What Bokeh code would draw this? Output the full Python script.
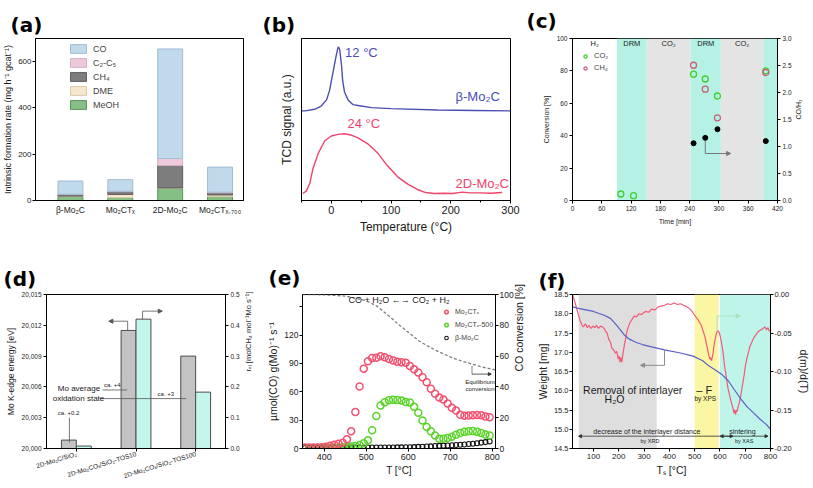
from bokeh.plotting import figure
from bokeh.models import (Range1d, LinearAxis, FixedTicker, NumeralTickFormatter, Label,
                          Legend, LegendItem, BoxAnnotation, Arrow, NormalHead, ColumnDataSource)
from bokeh.layouts import column, row
from bokeh.embed import file_html
from bokeh.resources import INLINE

FONT = "Liberation Sans"
TXT = "#1a1a1a"

# ---------------- data ----------------
# (a) intrinsic formation rates
a_catalysts = ["β-Mo₂C", "Mo₂CTₓ", "2D-Mo₂C", "Mo₂CTₓ₋₇₀₀"]
a_pos = [1, 2, 3, 4]
a_meoh = [17, 12, 53, 16]
a_dme = [2, 14, 1, 8]
a_ch4 = [7, 12, 97, 9]
a_c2c5 = [1, 2, 30, 3]
a_co = [57, 50, 472, 108]
a_yticks = [0, 200, 400, 600]

# (b) TCD signals
b_temp_beta = [-50, -44, -28, -17, -8, -3, 3, 8, 11, 12, 14, 17, 19, 22, 28, 36, 50, 67, 100, 178, 240, 300]
b_sig_beta = [0.553, 0.553, 0.563, 0.583, 0.621, 0.68, 0.796, 0.893, 0.942, 0.948, 0.932, 0.835,
              0.738, 0.67, 0.621, 0.592, 0.583, 0.573, 0.567, 0.559, 0.556, 0.553]
b_temp_2d = [-48, -42, -36, -31, -22, -11, 0, 11, 22, 33, 44, 61, 78, 94, 111, 128, 144, 158, 172,
             189, 203, 219, 233, 250, 267, 286]
b_sig_2d = [0.043, 0.058, 0.107, 0.194, 0.291, 0.369, 0.398, 0.408, 0.412, 0.404, 0.388, 0.35, 0.291,
            0.214, 0.146, 0.101, 0.068, 0.049, 0.043, 0.045, 0.043, 0.052, 0.047, 0.047, 0.045, 0.049]
b_xticks = [0, 100, 200, 300]

# (c) DRM cycling
c_phase_edges = [0, 91, 152, 242, 304, 391, 420]
c_phase_names = ["H₂", "DRM", "CO₂", "DRM", "CO₂", "DRM"]
c_t_co2 = [99, 125, 248, 272, 297, 396]
c_co2_conv = [4, 3, 78, 75, 64.5, 80]
c_t_ch4 = [248, 272, 297, 396]
c_ch4_conv = [83.5, 68.7, 51, 79]
c_t_ratio = [248, 272, 297, 396]
c_co_h2 = [1.06, 1.16, 1.32, 1.10]
c_xticks = [0, 60, 120, 180, 240, 300, 360, 420]

# (d) XANES edge energy and rate
d_catalysts = ["2D-Mo₂C/SiO₂", "2D-Mo₂COₓ/SiO₂-TOS10", "2D-Mo₂COₓ/SiO₂-TOS100"]
d_pos = [1, 2, 3]
d_edge = [20000.82, 20011.5, 20009.0]
d_rate = [0.008, 0.42, 0.183]
d_yticks = [20000, 20003, 20006, 20009, 20012, 20015]

# (e) WGS activity
e_temp = [354, 364, 374, 384, 394, 404, 414, 424, 434, 444, 454, 464, 474, 484, 494, 504, 514, 524,
          534, 544, 554, 564, 574, 584, 594, 604, 614, 624, 634, 644, 654, 664, 674, 684, 694, 704,
          714, 724, 734, 744, 754, 764, 774, 784, 794]
e_mo2ctx = [1, 1, 1, 1, 1.2, 1.8, 3, 4, 5, 6, 9.7, 18.3, 38.6, 65.5, 84.5, 92.4, 95.9, 96, 97.6, 96.5,
            94.8, 93.1, 91.7, 91.4, 90.7, 87.3, 83.8, 80.4, 75.3, 70.1, 63.2, 58, 53.9, 51.8, 47.7,
            43.2, 40.1, 35.6, 34.6, 34.9, 35.2, 35.5, 35.2, 33.9, 33.1]
e_mo2ctx500 = [0.5, 0.5, 0.5, 0.5, 0.5, 0.6, 0.7, 0.8, 1, 1.2, 1.5, 2, 2.7, 3.7, 5.5, 8.6, 19.3, 34.5,
               45.5, 48.9, 51, 51.7, 51.4, 50.7, 49.3, 48.6, 44.1, 37.9, 29.6, 22.7, 18.3, 13.8, 10.3,
               10.3, 11, 12.4, 14.5, 16.5, 17.6, 18.3, 18.5, 17.6, 16.5, 14.9, 13.8]
e_beta = [0.5, 0.5, 0.6, 0.6, 0.6, 0.7, 0.7, 0.7, 0.8, 0.8, 0.8, 0.9, 0.9, 0.9, 1, 1, 1, 1, 1, 1.1,
          1.1, 1.1, 1.2, 1.2, 1.3, 1.4, 1.5, 1.7, 1.9, 2.1, 2.3, 2.6, 2.8, 3.0, 3.2, 3.4, 3.7, 4.0,
          4.3, 4.7, 5.1, 5.6, 6.2, 6.8, 7.5]
e_eq_temp = [348, 400, 450, 500, 525, 550, 575, 600, 625, 650, 675, 700, 725, 750, 775, 800, 808]
e_eq_conv = [100, 99.8, 99, 96, 92.5, 87, 81, 75.5, 70, 66, 62.5, 59.5, 57, 55, 53, 51.5, 51]
e_xticks = [400, 500, 600, 700, 800]
e_yticks = [0, 30, 60, 90, 120, 150]
e_conv_ticks = [0, 20, 40, 60, 80, 100]

# (f) TGA / DTG
f_temp_w = [17, 41, 100, 142, 167, 192, 211, 223, 242, 267, 293, 330, 381, 444, 494, 532, 557, 582,
            608, 633, 658, 683, 708, 734, 759, 784, 800]
f_weight = [18.18, 18.14, 18.06, 17.96, 17.88, 17.7, 17.54, 17.44, 17.34, 17.26, 17.2, 17.14, 17.06,
            16.98, 16.9, 16.78, 16.64, 16.54, 16.42, 16.26, 16.02, 15.78, 15.58, 15.42, 15.26, 15.12, 15.0]
f_temp_dtg = [17, 25, 35, 47, 55, 60, 68, 75, 82, 90, 98, 105, 112, 120, 128, 135, 142, 148, 154, 160,
              167, 173, 180, 186, 192, 198, 202, 205, 208, 212, 215, 219, 223, 228, 232, 238, 245, 253,
              261, 270, 280, 290, 305, 318, 330, 343, 356, 368, 381, 393, 406, 419, 432, 444, 456, 469,
              482, 494, 507, 516, 526, 532, 538, 543, 548, 553, 557, 560, 563, 567, 572, 576, 580, 585,
              589, 592, 595, 598, 601, 606, 610, 614, 618, 622, 626, 632, 639, 645, 652, 655, 658, 662,
              665, 668, 672, 677, 681, 686, 691, 696, 701, 706, 712, 718, 726, 734, 743, 752, 761, 771,
              778, 784, 790, 796]
f_dtg = [0.0, -0.008, -0.02, -0.034, -0.04, -0.042, -0.038, -0.043, -0.040, -0.044, -0.041, -0.043,
         -0.040, -0.044, -0.041, -0.042, -0.044, -0.048, -0.050, -0.058, -0.062, -0.07, -0.072, -0.076,
         -0.074, -0.084, -0.080, -0.088, -0.082, -0.088, -0.080, -0.072, -0.064, -0.056, -0.048, -0.042,
         -0.036, -0.032, -0.028, -0.029, -0.025, -0.026, -0.022, -0.023, -0.019, -0.020, -0.016, -0.015,
         -0.014, -0.012, -0.013, -0.011, -0.013, -0.012, -0.014, -0.016, -0.019, -0.024, -0.03, -0.034,
         -0.04, -0.046, -0.052, -0.058, -0.066, -0.074, -0.080, -0.084, -0.082, -0.086, -0.078, -0.068,
         -0.060, -0.052, -0.048, -0.047, -0.048, -0.050, -0.054, -0.062, -0.070, -0.080, -0.092, -0.100,
         -0.110, -0.122, -0.132, -0.140, -0.148, -0.154, -0.150, -0.156, -0.150, -0.152, -0.146, -0.140,
         -0.134, -0.124, -0.114, -0.104, -0.092, -0.084, -0.076, -0.068, -0.062, -0.056, -0.052, -0.048,
         -0.046, -0.044, -0.042, -0.046, -0.043, -0.048]
f_regions_left = [42, 500, 600]
f_regions_right = [350, 595, 800]
f_xticks = [100, 200, 300, 400, 500, 600, 700, 800]
f_wticks = [14.5, 15.0, 15.5, 16.0, 16.5, 17.0, 17.5, 18.0, 18.5]
f_dticks = [-0.20, -0.15, -0.10, -0.05, 0.00]


# ---------------- helpers ----------------
def make_fig(w, h, left, right, top, bottom, xr, yr):
    p = figure(width=w, height=h, x_range=Range1d(*xr), y_range=Range1d(*yr),
               output_backend="svg", toolbar_location=None,
               min_border_left=left, min_border_right=right,
               min_border_top=top, min_border_bottom=bottom)
    p.grid.visible = False
    p.outline_line_color = "black"
    p.outline_line_alpha = 1
    p.outline_line_width = 1
    return p


def style_ax(ax, tick_size, label_size, tick_out=3, minor_out=0, standoff=2, label_standoff=3):
    ax.axis_line_color = "black"
    ax.major_tick_line_color = "black"
    ax.minor_tick_line_color = "black"
    ax.major_tick_out = tick_out
    ax.major_tick_in = 0
    ax.minor_tick_out = minor_out
    ax.minor_tick_in = 0
    ax.major_label_text_font = FONT
    ax.major_label_text_font_size = f"{tick_size}px"
    ax.major_label_text_color = TXT
    ax.major_label_standoff = standoff
    ax.axis_label_text_font = FONT
    ax.axis_label_text_font_size = f"{label_size}px"
    ax.axis_label_text_font_style = "normal"
    ax.axis_label_text_color = TXT
    ax.axis_label_standoff = label_standoff


def tag(p, text, offset, standoff):
    p.title.text = text
    p.title.text_font = "DejaVu Sans"
    p.title.text_font_size = "20px"
    p.title.text_font_style = "bold"
    p.title.text_color = "black"
    p.title.align = "left"
    p.title.offset = offset
    p.title.standoff = standoff


def note(p, x, y, text, size, color=TXT, align="left", baseline="middle", y_range_name="default", style="normal"):
    p.add_layout(Label(x=x, y=y, text=text, text_font=FONT, text_font_size=f"{size}px",
                       text_color=color, text_align=align, text_baseline=baseline,
                       y_range_name=y_range_name, text_font_style=style))


def arrow(p, xs, ys, xe, ye, color, y_range_name="default", size=4, both=False, width=1):
    head = NormalHead(size=size, fill_color=color, line_color=color)
    kw = dict(end=head, x_start=xs, y_start=ys, x_end=xe, y_end=ye, line_color=color,
              line_width=width, y_range_name=y_range_name)
    if both:
        kw["start"] = NormalHead(size=size, fill_color=color, line_color=color)
    p.add_layout(Arrow(**kw))


# ---------------- (a) ----------------
pa = make_fig(260, 245, 30, 17, 29, 42, (0.3, 4.47), (0, 698))
a_src = ColumnDataSource(dict(x=a_pos, MeOH=a_meoh, DME=a_dme, CH4=a_ch4, C2C5=a_c2c5, CO=a_co))
a_fill = ["#86bf86", "#f6e8cd", "#7d7d7d", "#edc9db", "#c0daec"]
a_line = ["#5a965a", "#dccaa8", "#5d5d5d", "#d8b0c4", "#a2bdd2"]
ra = pa.vbar_stack(["MeOH", "DME", "CH4", "C2C5", "CO"], x="x", width=0.5, source=a_src,
                   fill_color=a_fill, line_color=a_line, line_width=1)
style_ax(pa.xaxis[0], 8.5, 9, tick_out=0, standoff=4)
style_ax(pa.yaxis[0], 8, 9, tick_out=3, standoff=1, label_standoff=2)
pa.xaxis.ticker = FixedTicker(ticks=a_pos)
pa.xaxis.major_label_overrides = {k: v for k, v in zip(a_pos, a_catalysts)}
pa.yaxis.ticker = FixedTicker(ticks=a_yticks)
pa.yaxis.axis_label = "Intrinsic formation rate (mg h⁻¹ gcat⁻¹)"
leg_a = Legend(items=[LegendItem(label="CO", renderers=[ra[4]]),
                      LegendItem(label="C₂-C₅", renderers=[ra[3]]),
                      LegendItem(label="CH₄", renderers=[ra[2]]),
                      LegendItem(label="DME", renderers=[ra[1]]),
                      LegendItem(label="MeOH", renderers=[ra[0]])],
               location=(33, 90), glyph_width=20, glyph_height=11, label_height=11, spacing=3,
               padding=0, margin=0, label_standoff=5, label_text_font=FONT,
               label_text_font_size="9px", border_line_color=None, background_fill_alpha=0)
pa.add_layout(leg_a)
tag(pa, "(a)", -25, 4)

# ---------------- (b) ----------------
pb = make_fig(262, 245, 41, 12, 28, 45, (-50, 300), (0, 1))
BLUE_B = "#4b4fb4"
RED_B = "#f0446c"
pb.line(b_temp_beta, b_sig_beta, line_color=BLUE_B, line_width=1.4)
pb.line(b_temp_2d, b_sig_2d, line_color=RED_B, line_width=1.4)
style_ax(pb.xaxis[0], 11, 12, tick_out=3, minor_out=2)
style_ax(pb.yaxis[0], 11, 12, tick_out=0, label_standoff=8)
pb.xaxis.ticker = FixedTicker(ticks=b_xticks, minor_ticks=[-50, 50, 150, 250])
pb.yaxis.ticker = FixedTicker(ticks=[])
pb.xaxis.axis_label = "Temperature (°C)"
pb.yaxis.axis_label = "TCD signal (a.u.)"
note(pb, 23, 0.913, "12 °C", 13, BLUE_B)
note(pb, 208, 0.64, "β-Mo₂C", 13, BLUE_B)
note(pb, 27, 0.476, "24 °C", 13, RED_B)
note(pb, 208, 0.107, "2D-Mo₂C", 13, RED_B)
note(pb, -84, -0.075, "0", 11, align="center")
tag(pb, "(b)", -39, 3)

# ---------------- (c) ----------------
pc = make_fig(290, 245, 50, 35, 37, 42, (0, 420), (0, 100))
pc.extra_y_ranges = {"ratio": Range1d(0, 3)}
phase_fill = {"H₂": None, "DRM": "#b5f2e5", "CO₂": "#e4e4e4"}
for i, name in enumerate(c_phase_names):
    lo, hi = c_phase_edges[i], c_phase_edges[i + 1]
    if phase_fill[name]:
        pc.add_layout(BoxAnnotation(left=lo, right=hi, fill_color=phase_fill[name], fill_alpha=1,
                                    line_alpha=0, level="underlay"))
    if i < len(c_phase_names) - 1:
        note(pc, (lo + hi) / 2, 97, name, 7.5, align="center")
rg = pc.scatter(c_t_co2, c_co2_conv, marker="circle", size=6, fill_color=None,
                line_color="#3fd12a", line_width=1.3)
rp = pc.scatter(c_t_ch4, c_ch4_conv, marker="circle", size=6, fill_color=None,
                line_color="#cc5f78", line_width=1.3)
pc.scatter(c_t_ratio, c_co_h2, marker="circle", size=5, fill_color="black", line_color="black",
           y_range_name="ratio")
rax_c = LinearAxis(y_range_name="ratio")
pc.add_layout(rax_c, "right")
for ax in (pc.xaxis[0], pc.yaxis[0], rax_c):
    style_ax(ax, 6.5, 7, tick_out=3, label_standoff=4)
rax_c.axis_label_orientation = 1.5708
pc.xaxis[0].ticker = FixedTicker(ticks=c_xticks)
pc.yaxis[0].ticker = FixedTicker(ticks=[0, 20, 40, 60, 80, 100])
rax_c.ticker = FixedTicker(ticks=[0, 0.5, 1.0, 1.5, 2.0, 2.5, 3.0])
rax_c.formatter = NumeralTickFormatter(format="0.0")
pc.xaxis[0].axis_label = "Time [min]"
pc.yaxis[0].axis_label = "Conversion [%]"
rax_c.axis_label = "CO/H₂"
pc.line([272, 272], [1.10, 0.87], line_color="#777777", line_width=1, y_range_name="ratio")
arrow(pc, 272, 0.87, 324, 0.87, "#777777", y_range_name="ratio", size=4)
leg_c = Legend(items=[LegendItem(label="CO₂", renderers=[rg]), LegendItem(label="CH₄", renderers=[rp])],
               location=(8, 128), glyph_width=10, glyph_height=8, label_height=8, spacing=3,
               padding=0, margin=0, label_standoff=4, label_text_font=FONT,
               label_text_font_size="7.5px", border_line_color=None, background_fill_alpha=0)
pc.add_layout(leg_c)
tag(pc, "(c)", -46, 12)

# ---------------- (d) ----------------
pd_ = make_fig(260, 242, 46, 32, 48, 39, (0.5, 3.5), (20000, 20015))
pd_.extra_y_ranges = {"r": Range1d(0, 0.5)}
pd_.vbar(x=[x - 0.125 for x in d_pos], top=d_edge, bottom=20000, width=0.25,
         fill_color="#c3c3c3", line_color="#4d4d4d", line_width=1)
pd_.vbar(x=[x + 0.125 for x in d_pos], top=d_rate, bottom=0, width=0.25,
         fill_color="#c3f7ee", line_color="#4d4d4d", line_width=1, y_range_name="r")
rax_d = LinearAxis(y_range_name="r")
pd_.add_layout(rax_d, "right")
style_ax(pd_.xaxis[0], 6.5, 8, tick_out=3, standoff=2)
style_ax(pd_.yaxis[0], 6.5, 8.5, tick_out=3)
style_ax(rax_d, 6.5, 7.5, tick_out=3, label_standoff=6)
rax_d.axis_label_orientation = 1.5708
pd_.xaxis[0].ticker = FixedTicker(ticks=d_pos)
pd_.xaxis[0].major_label_overrides = {k: v for k, v in zip(d_pos, d_catalysts)}
pd_.xaxis[0].major_label_orientation = 0.3
pd_.yaxis[0].ticker = FixedTicker(ticks=d_yticks)
pd_.yaxis[0].formatter = NumeralTickFormatter(format="0,0")
rax_d.ticker = FixedTicker(ticks=[0, 0.1, 0.2, 0.3, 0.4, 0.5])
rax_d.formatter = NumeralTickFormatter(format="0.0")
pd_.yaxis[0].axis_label = "Mo K-edge energy [eV]"
rax_d.axis_label = "rₑₗ [molCH₄ mol⁻¹Mo s⁻¹]"
GREY_D = "#555555"
note(pd_, 1.044, 20005.87, "Mo average", 8, align="center")
note(pd_, 1.036, 20004.9, "oxidation state", 8, align="center")
pd_.line([1.39, 2.84], [20004.86, 20004.86], line_color=GREY_D, line_width=0.8)
note(pd_, 1.604, 20006.16, "ca. +4", 6, align="center")
pd_.line([1.44, 1.85], [20005.7, 20005.7], line_color=GREY_D, line_width=0.8)
note(pd_, 2.50, 20005.29, "ca. +3", 6, align="center")
note(pd_, 0.87, 20003.44, "ca. +0.2", 6, align="center")
pd_.line([0.884, 0.884], [20003.0, 20000.58], line_color=GREY_D, line_width=0.8)
pd_.line([1.86, 1.86], [20011.5, 20012.4], line_color=GREY_D, line_width=0.8)
arrow(pd_, 1.86, 20012.4, 1.545, 20012.4, GREY_D, size=4, width=0.8)
pd_.line([2.11, 2.11], [0.42, 0.446], line_color=GREY_D, line_width=0.8, y_range_name="r")
arrow(pd_, 2.11, 0.446, 2.44, 0.446, GREY_D, y_range_name="r", size=4, width=0.8)
tag(pd_, "(d)", -43, 8)

# ---------------- (e) ----------------
pe = make_fig(273, 242, 42, 32, 49, 34, (348, 808), (0, 163))
pe.extra_y_ranges = {"conv": Range1d(0, 100)}
pe.line(e_eq_temp, e_eq_conv, line_color="#7f7f7f", line_dash="3 2", line_width=1.3, y_range_name="conv")
rb = pe.scatter(e_temp, e_beta, marker="circle", size=5, fill_color=None, line_color="#111111", line_width=1.1)
rg5 = pe.scatter(e_temp, e_mo2ctx500, marker="circle", size=7, fill_color=None, line_color="#5ad32a", line_width=1.5)
rr = pe.scatter(e_temp, e_mo2ctx, marker="circle", size=7, fill_color=None, line_color="#f2506f", line_width=1.5)
rax_e = LinearAxis(y_range_name="conv")
pe.add_layout(rax_e, "right")
style_ax(pe.xaxis[0], 9, 10, tick_out=3, standoff=2, label_standoff=2)
style_ax(pe.yaxis[0], 8.5, 10.5, tick_out=3, standoff=1, label_standoff=2)
style_ax(rax_e, 8.5, 10.5, tick_out=3, standoff=1, label_standoff=2)
rax_e.axis_label_orientation = 1.5708
pe.xaxis[0].ticker = FixedTicker(ticks=e_xticks)
pe.yaxis[0].ticker = FixedTicker(ticks=e_yticks)
pe.yaxis[0].major_label_overrides = {150: ""}
rax_e.ticker = FixedTicker(ticks=e_conv_ticks)
pe.xaxis[0].axis_label = "T [°C]"
pe.yaxis[0].axis_label = "µmol(CO) g(Mo)⁻¹ s⁻¹"
rax_e.axis_label = "CO conversion [%]"
note(pe, 578, 157, "CO + H₂O ←→ CO₂ + H₂", 9, align="center")
pe.line([752, 752], [53.6, 48.3], line_color="#666666", line_width=0.8, y_range_name="conv")
arrow(pe, 752, 48.3, 798, 48.3, "#333333", y_range_name="conv", size=3, width=0.8)
note(pe, 771, 43.5, "Equilibrium", 6, align="center", y_range_name="conv")
note(pe, 771, 38.8, "conversion", 6, align="center", y_range_name="conv")
leg_e = Legend(items=[LegendItem(label="Mo₂CTₓ", renderers=[rr]),
                      LegendItem(label="Mo₂CTₓ-500", renderers=[rg5]),
                      LegendItem(label="β-Mo₂C", renderers=[rb])],
               location=(139, 106), glyph_width=10, glyph_height=9, label_height=9, spacing=4,
               padding=0, margin=0, label_standoff=4, label_text_font=FONT,
               label_text_font_size="7px", border_line_color=None, background_fill_alpha=0)
pe.add_layout(leg_e)
tag(pe, "(e)", -34, 9)

# ---------------- (f) ----------------
pf = make_fig(279, 242, 34, 38, 43, 32, (17, 800), (14.5, 18.5))
pf.extra_y_ranges = {"dtg": Range1d(-0.20, 0.0)}
f_colors = ["#dedede", "#fbf6a4", "#bff4eb"]
for lo, hi, colr in zip(f_regions_left, f_regions_right, f_colors):
    pf.add_layout(BoxAnnotation(left=lo, right=hi, fill_color=colr, fill_alpha=1, line_alpha=0,
                                level="underlay"))
pf.line(f_temp_dtg, f_dtg, line_color="#f25a78", line_width=1.2, y_range_name="dtg")
pf.line(f_temp_w, f_weight, line_color="#5a5fc4", line_width=1.2)
rax_f = LinearAxis(y_range_name="dtg")
pf.add_layout(rax_f, "right")
style_ax(pf.xaxis[0], 8, 10.5, tick_out=3, standoff=2, label_standoff=2)
style_ax(pf.yaxis[0], 7.5, 10.5, tick_out=3, standoff=1, label_standoff=2)
style_ax(rax_f, 7.5, 10.5, tick_out=3, standoff=1, label_standoff=3)
pf.xaxis[0].ticker = FixedTicker(ticks=f_xticks)
pf.yaxis[0].ticker = FixedTicker(ticks=f_wticks)
pf.yaxis[0].formatter = NumeralTickFormatter(format="0.0")
rax_f.ticker = FixedTicker(ticks=f_dticks)
rax_f.formatter = NumeralTickFormatter(format="0.00")
pf.xaxis[0].axis_label = "Tₛ [°C]"
pf.yaxis[0].axis_label = "Weight [mg]"
rax_f.axis_label = "d(m)/d(T)"
pf.line([381, 381], [17.06, 16.66], line_color="#8c8c8c", line_width=1)
arrow(pf, 381, 16.66, 286, 16.66, "#8c8c8c", size=4)
pf.line([589, 589], [-0.048, -0.028], line_color="#a6e4c2", line_width=1, y_range_name="dtg")
arrow(pf, 589, -0.028, 680, -0.028, "#a6e4c2", y_range_name="dtg", size=4)
note(pf, 255, 16.03, "Removal of interlayer", 10.5, align="center")
note(pf, 183, 15.79, "H₂O", 10.5, align="center")
note(pf, 538, 16.03, "– F", 11, align="center")
note(pf, 542, 15.79, "by XPS", 6.5, align="center")
note(pf, 311, 14.94, "decrease of the interlayer distance", 7, align="center")
arrow(pf, 41, 14.82, 652, 14.82, "#333333", size=3, both=True, width=0.8)
note(pf, 323, 14.70, "by XRD", 5.5, align="center")
note(pf, 689, 14.94, "sintering", 7, align="center")
arrow(pf, 601, 14.82, 790, 14.82, "#333333", size=3, both=True, width=0.8)
note(pf, 696, 14.70, "by XAS", 5.5, align="center")
tag(pf, "(f)", -34, 3)

layout = column(row(pa, pb, pc), row(pd_, pe, pf))
open("out.html", "w").write(file_html(layout, INLINE))
